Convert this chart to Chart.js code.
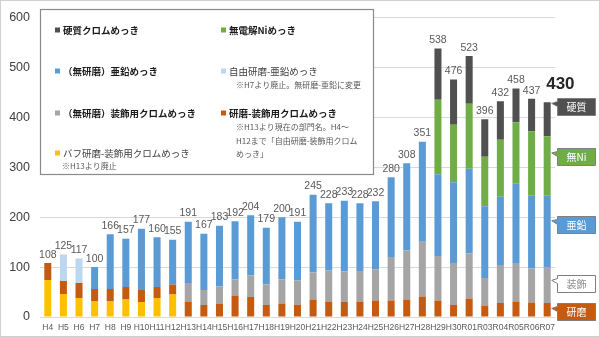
<!DOCTYPE html>
<html lang="ja">
<head>
<meta charset="utf-8">
<script src="https://cdn.jsdelivr.net/npm/chart.js@4/dist/chart.umd.min.js"></script>
<style>
  html, body { margin: 0; padding: 0; background: #fff; }
  #wrap { width: 600px; height: 337px; }
</style>
</head>
<body>
<div id="wrap"><canvas id="platingChart" width="600" height="337"></canvas></div>
<script>
// 年度
var years = ["H4","H5","H6","H7","H8","H9","H10","H11","H12","H13","H14","H15","H16","H17","H18","H19","H20",
             "H21","H22","H23","H24","H25","H26","H27","H28","H29","H30","R01","R03","R04","R05","R06","R07"];

// 部門ごとの件数（積み上げの下から順）
var buffDeco     = [74,46,38,31,31,35,30,38,45,null,null,null,null,null,null,null,null,
                    null,null,null,null,null,null,null,null,null,null,null,null,null,null,null,null];
var polishDeco   = [34,26,30,25,25,25,24,22,20,31,24,26,43,40,24,27,24,
                    35,31,30,31,33,33,35,41,33,24,37,22,28,31,29,28];
var decoChrome   = [null,null,null,null,null,null,null,null,null,37,30,35,32,43,41,48,49,
                    54,62,61,61,62,87,98,110,89,84,90,56,76,77,68,72];
var freeZinc     = [null,53,49,null,null,null,null,null,null,null,null,null,null,null,null,null,null,
                    null,null,null,null,null,null,null,null,null,null,null,null,null,null,null,null];
var zinc         = [null,null,null,44,110,97,123,100,90,123,113,122,117,121,114,125,118,
                    156,135,142,136,137,160,175,200,164,162,170,144,137,160,146,143];
var electrolessNi= [null,null,null,null,null,null,null,null,null,null,null,null,null,null,null,null,null,
                    null,null,null,null,null,null,null,null,149,115,130,99,114,122,129,119];
var hardChrome   = [null,null,null,null,null,null,null,null,null,null,null,null,null,null,null,null,null,
                    null,null,null,null,null,null,null,null,103,91,96,75,77,68,65,68];

var yTicks = [0, 100, 200, 300, 400, 500, 600];

var seriesNames = ["バフ研磨-装飾用クロムめっき", "研磨-装飾用クロムめっき", "（無研磨）装飾用クロムめっき",
                   "自由研磨-亜鉛めっき", "（無研磨）亜鉛めっき", "無電解Niめっき", "硬質クロムめっき"];
var seriesColors = ["#FFC000", "#C55A11", "#A5A5A5", "#BDD7EE", "#5B9BD5", "#70AD47", "#505050"];
var seriesBold = [false, true, true, false, true, true, true];
var seriesNotes = [
  ["※H13より廃止"],
  ["※H13より現在の部門名。H4～", "H12まで「自由研磨-装飾用クロム", "めっき」"],
  [], ["※H7より廃止。無研磨-亜鉛に変更"], [], [], []
];

// 最終年度の吹き出しラベル（系列と同じ並び）
var calloutText = [null, "研磨", "装飾", null, "亜鉛", "無Ni", "硬質"];

var JP = "'Noto Sans CJK JP', sans-serif";
var NUM = "'Liberation Sans', Arial, sans-serif";

var seriesData = [buffDeco, polishDeco, decoChrome, freeZinc, zinc, electrolessNi, hardChrome];

var datasets = seriesData.map(function (d, i) {
  return {
    label: seriesNames[i],
    data: d,
    backgroundColor: seriesColors[i],
    borderWidth: 0,
    barPercentage: 0.45,
    categoryPercentage: 1
  };
});

// 枠線と背景
var framePlugin = {
  id: 'frame',
  beforeDraw: function (chart) {
    var c = chart.ctx;
    c.save();
    c.fillStyle = '#fff';
    c.fillRect(0, 0, chart.width, chart.height);
    c.restore();
  },
  afterDraw: function (chart) {
    var c = chart.ctx;
    c.save();
    c.strokeStyle = '#d0d0d0';
    c.lineWidth = 1;
    c.strokeRect(0.5, 0.5, chart.width - 1, chart.height - 1);
    c.restore();
  }
};

// 合計値ラベル
var totalsPlugin = {
  id: 'totals',
  afterDatasetsDraw: function (chart) {
    var c = chart.ctx, xs = chart.scales.x, ys = chart.scales.y;
    var last = years.length - 1;
    c.save();
    years.forEach(function (yr, i) {
      var total = 0;
      seriesData.forEach(function (d) { total += d[i] || 0; });
      var x = xs.getPixelForValue(i), y = ys.getPixelForValue(total);
      c.fillStyle = '#595959';
      if (i === last) {
        c.font = 'bold 17px ' + NUM;
        c.textAlign = 'left';
        c.textBaseline = 'alphabetic';
        c.fillStyle = '#262626';
        c.fillText(String(total), x - 1, y - 13);
      } else {
        c.font = '10.5px ' + NUM;
        c.textAlign = 'center';
        c.textBaseline = 'bottom';
        c.fillText(String(total), x, y - 3);
      }
    });
    c.restore();
  }
};

// 右側の吹き出し
var calloutPlugin = {
  id: 'callouts',
  afterDatasetsDraw: function (chart) {
    var c = chart.ctx, area = chart.chartArea;
    var last = years.length - 1;
    var anchor = [0, 0.6, 0.63, 0, 0.65, 0.72, 0.97];
    c.save();
    calloutText.forEach(function (txt, i) {
      if (!txt) return;
      var bar = chart.getDatasetMeta(i).data[last];
      if (!bar) return;
      var p = bar.getProps(['x', 'y', 'base', 'width'], true);
      var tipX = p.x + p.width / 2 + 1;
      var tipY = p.base + (p.y - p.base) * anchor[i];
      var bx = area.right + 2.5, bw = 38, bh = 17;
      var top = Math.round(tipY - 5) + 0.5;
      var white = seriesColors[i] === '#A5A5A5';
      c.beginPath();
      c.moveTo(bx, top);
      c.lineTo(bx + bw, top);
      c.lineTo(bx + bw, top + bh);
      c.lineTo(bx, top + bh);
      c.lineTo(bx, top + 8);
      c.lineTo(tipX, tipY);
      c.lineTo(bx, top + 3);
      c.closePath();
      c.fillStyle = white ? '#fff' : seriesColors[i];
      c.fill();
      c.strokeStyle = '#7f7f7f';
      c.lineWidth = 1;
      c.stroke();
      c.fillStyle = white ? '#8c8c8c' : '#fff';
      c.font = '10px ' + JP;
      c.textAlign = 'center';
      c.textBaseline = 'middle';
      c.fillText(txt, bx + bw / 2, top + bh / 2 + 0.5);
    });
    c.restore();
  }
};

// 凡例（2列、注記付き）
var legendPlugin = {
  id: 'boxLegend',
  afterDatasetsDraw: function (chart) {
    var c = chart.ctx, area = chart.chartArea;
    var left = Math.round(area.left) + 0.5, top = 9.5, right = 373.5, bottom = 174.5;
    c.save();
    c.fillStyle = '#fff';
    c.fillRect(left, top, right - left, bottom - top);
    c.strokeStyle = '#8a8a8a';
    c.lineWidth = 1.2;
    c.strokeRect(left, top, right - left, bottom - top);

    var rowY = [30, 71, 113, 153];
    var colX = [55, 221];
    var order = seriesNames.map(function (n, i) { return i; }).reverse();
    order.forEach(function (idx, k) {
      var col = k % 2, row = Math.floor(k / 2);
      var x = colX[col], y = rowY[row];
      c.fillStyle = seriesColors[idx];
      c.fillRect(x, y - 2.5, 5, 5);
      c.fillStyle = seriesBold[idx] ? '#1a1a1a' : '#404040';
      c.font = (seriesBold[idx] ? 'bold ' : '') + '9.5px ' + JP;
      c.textAlign = 'left';
      c.textBaseline = 'middle';
      c.fillText(seriesNames[idx], x + 8, y);
      c.font = '8px ' + JP;
      c.fillStyle = '#595959';
      seriesNotes[idx].forEach(function (line, j) {
        c.fillText(line, x + (col === 0 ? 7 : 15), y + 14 + j * 13.7 - (col === 0 ? 1.5 : 0));
      });
    });
    c.restore();
  }
};

new Chart(document.getElementById('platingChart').getContext('2d'), {
  type: 'bar',
  data: { labels: years, datasets: datasets },
  plugins: [framePlugin, totalsPlugin, calloutPlugin, legendPlugin],
  options: {
    responsive: false,
    devicePixelRatio: 1,
    animation: false,
    layout: { padding: { left: 0, right: 45, top: 12, bottom: 0 } },
    plugins: { legend: { display: false }, tooltip: { enabled: false } },
    scales: {
      x: {
        stacked: true,
        grid: { display: false, drawTicks: false },
        border: { display: false },
        ticks: {
          autoSkip: false, maxRotation: 0, minRotation: 0, padding: 6,
          color: '#595959', font: { family: NUM, size: 8.5 }
        },
        afterFit: function (s) { s.height = 20; }
      },
      y: {
        stacked: true,
        min: 0, max: 600,
        afterBuildTicks: function (s) { s.ticks = yTicks.map(function (v) { return { value: v }; }); },
        grid: { color: '#d9d9d9', drawTicks: false, lineWidth: 1 },
        border: { display: false },
        ticks: { padding: 10, color: '#404040', font: { family: NUM, size: 12.5 } },
        afterFit: function (s) { s.width = 40; }
      }
    }
  }
});
</script>
</body>
</html>
